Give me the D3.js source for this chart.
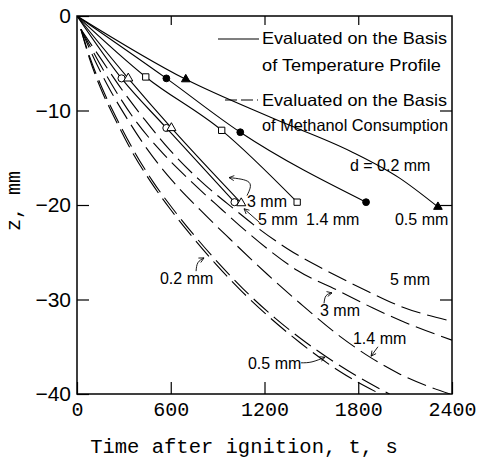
<!DOCTYPE html>
<html>
<head>
<meta charset="utf-8">
<script src="https://cdn.jsdelivr.net/npm/d3@7"></script>
<style>
  body { margin: 0; background: #fff; }
</style>
</head>
<body>
<div id="chart"></div>
<script>
const xTicks = [0, 600, 1200, 1800, 2400];
const yTicks = [0, -10, -20, -30, -40];

// measured points from the temperature profile, [t (s), z (mm)]
const temp02 = [[696, -6.7], [2310, -20.2]];
const temp05 = [[572, -6.6], [1045, -12.3], [1850, -19.7]];
const temp14 = [[440, -6.45], [926, -12.1], [1409, -19.7]];
const temp3 = [[285, -6.6], [572, -11.85], [1008, -19.7]];
const temp5 = [[328, -6.6], [604, -11.85], [1051, -19.8]];

// solid curves (temperature profile)
const solid02 = [[0, 0], [696, -6.7], [1250, -10.8], [1750, -14.3], [2060, -17.1], [2310, -20.2]];
const solid05 = [[0, 0], [572, -6.6], [1045, -12.3], [1850, -19.7]];
const solid14 = [[0, 0], [440, -6.45], [926, -12.1], [1409, -19.7]];
const solid3 = [[0, 0], [285, -6.6], [572, -11.85], [1008, -19.7]];
const solid5 = [[0, 0], [328, -6.6], [604, -11.85], [1051, -19.8]];

// dashed curves (methanol consumption)
const dash02 = [[25, -1.4], [80, -4.5], [150, -7.6], [250, -11.1], [350, -14.3], [470, -17.5], [600, -20.5], [740, -23.4], [880, -26.1], [1040, -28.9], [1240, -32.0], [1430, -34.6], [1680, -37.6], [1940, -40]];
const dash05 = [[25, -1.4], [85, -4.5], [160, -7.6], [262, -11.1], [365, -14.3], [485, -17.5], [618, -20.5], [760, -23.4], [903, -26.1], [1065, -28.9], [1270, -32.0], [1470, -34.6], [1740, -37.6], [2000, -40]];
const dash14 = [[25, -1.4], [115, -4.7], [211, -7.8], [326, -11.0], [454, -14.2], [608, -17.4], [787, -20.5], [979, -23.6], [1216, -27.3], [1427, -30.4], [1683, -33.9], [1875, -36.1], [2067, -37.9], [2387, -40]];
const dash3 = [[25, -1.4], [134, -4.7], [243, -7.8], [371, -11.0], [531, -14.2], [723, -17.4], [928, -20.5], [1043, -22.2], [1216, -24.6], [1408, -26.9], [1664, -29.0], [1894, -30.9], [2067, -32.2], [2400, -34.3]];
const dash5 = [[25, -1.4], [160, -4.7], [288, -7.8], [435, -11.0], [595, -14.2], [787, -17.4], [1011, -20.5], [1171, -22.6], [1344, -24.6], [1638, -27.3], [1856, -29.1], [2067, -30.7], [2400, -32.3]];

const width = 477;
const height = 459;
const margin = { top: 16, right: 25, bottom: 65, left: 77 };
const sans = "'Liberation Sans', Arial, sans-serif";
const mono = "'Liberation Mono', 'Courier New', monospace";

const svg = d3.select("#chart")
  .append("svg")
  .attr("width", width)
  .attr("height", height);

const x = d3.scaleLinear().domain([0, 2400]).range([margin.left, width - margin.right]);
const y = d3.scaleLinear().domain([-40, 0]).range([height - margin.bottom, margin.top]);

svg.append("clipPath").attr("id", "plot")
  .append("rect")
  .attr("x", x(0)).attr("y", y(0))
  .attr("width", x(2400) - x(0)).attr("height", y(-40) - y(0));

const line = d3.line()
  .x(d => x(d[0]))
  .y(d => y(d[1]))
  .curve(d3.curveMonotoneX);

const curves = svg.append("g")
  .attr("clip-path", "url(#plot)")
  .attr("fill", "none")
  .attr("stroke", "#000")
  .attr("stroke-width", 1.1);

[solid02, solid05, solid14, solid3, solid5].forEach(s => {
  curves.append("path").attr("d", line(s));
});
[dash02, dash05, dash14, dash3, dash5].forEach(s => {
  curves.append("path").attr("d", line(s)).attr("stroke-dasharray", "20,7");
});

// markers
const markers = [
  { pts: temp02, type: d3.symbolTriangle, size: 32, fill: "#000" },
  { pts: temp05, type: d3.symbolCircle, size: 36, fill: "#000" },
  { pts: temp14, type: d3.symbolSquare, size: 40, fill: "#fff" },
  { pts: temp3, type: d3.symbolCircle, size: 40, fill: "#fff" },
  { pts: temp5, type: d3.symbolTriangle, size: 36, fill: "#fff" }
];
markers.forEach(m => {
  svg.append("g").selectAll("path")
    .data(m.pts)
    .join("path")
    .attr("transform", d => `translate(${x(d[0])},${y(d[1])})`)
    .attr("d", d3.symbol(m.type, m.size))
    .attr("fill", m.fill)
    .attr("stroke", "#000")
    .attr("stroke-width", 1);
});

// axes, ticks pointing inward
const bottom = svg.append("g")
  .attr("transform", `translate(0,${y(-40)})`)
  .call(d3.axisBottom(x).tickValues(xTicks).tickSizeInner(-12).tickSizeOuter(0).tickPadding(8).tickFormat(d3.format("d")));
bottom.attr("font-family", mono).attr("font-size", 20);

const left = svg.append("g")
  .attr("transform", `translate(${x(0)},0)`)
  .call(d3.axisLeft(y).tickValues(yTicks).tickSizeInner(-12).tickSizeOuter(0).tickPadding(6).tickFormat(d3.format("d")));
left.attr("font-family", sans).attr("font-size", 21);

svg.append("g")
  .attr("transform", `translate(0,${y(0)})`)
  .call(d3.axisTop(x).tickValues([600, 1200, 1800]).tickSizeInner(-9).tickSizeOuter(0).tickFormat(""));

svg.append("g")
  .attr("transform", `translate(${x(2400)},0)`)
  .call(d3.axisRight(y).tickValues([-10, -20, -30]).tickSizeInner(-12).tickSizeOuter(0).tickFormat(""));

svg.selectAll(".domain").remove();
svg.selectAll(".tick line").attr("stroke-width", 1.2);

svg.append("rect")
  .attr("x", x(0)).attr("y", y(0))
  .attr("width", x(2400) - x(0)).attr("height", y(-40) - y(0))
  .attr("fill", "none")
  .attr("stroke", "#000")
  .attr("stroke-width", 1.5);

// axis titles
svg.append("text")
  .attr("x", 244).attr("y", 453)
  .attr("text-anchor", "middle")
  .style("font-family", mono).style("font-size", "20.5px")
  .text("Time after ignition, t, s");

svg.append("text")
  .attr("transform", "translate(20,201) rotate(-90)")
  .attr("text-anchor", "middle")
  .style("font-family", mono).style("font-size", "20px")
  .text("z, mm");

// legend
const legend = svg.append("g").style("font-family", sans).style("font-size", "16.5px");
legend.append("line").attr("x1", 218).attr("x2", 259).attr("y1", 39).attr("y2", 39)
  .attr("stroke", "#000").attr("stroke-width", 1.1);
legend.append("line").attr("x1", 225).attr("x2", 258).attr("y1", 100).attr("y2", 100)
  .attr("stroke", "#000").attr("stroke-width", 1.1).attr("stroke-dasharray", "12,4");
[["Evaluated on the Basis", 44, 185], ["of Temperature Profile", 71, 179],
 ["Evaluated on the Basis", 106, 185], ["of Methanol Consumption", 131, 186]].forEach(r => {
  legend.append("text").attr("x", 262).attr("y", r[1])
    .attr("textLength", r[2]).attr("lengthAdjust", "spacingAndGlyphs")
    .text(r[0]);
});

// curve labels, placed in data units
const labels = [
  ["d = 0.2 mm", 1747, -16.4],
  ["3 mm", 1088, -20.2],
  ["5 mm", 1158, -22.1],
  ["1.4 mm", 1466, -22.1],
  ["0.5 mm", 2035, -22.1],
  ["5 mm", 2003, -28.5],
  ["3 mm", 1555, -31.7],
  ["1.4 mm", 1766, -34.7],
  ["0.5 mm", 1094, -37.4],
  ["0.2 mm", 531, -28.4]
];
svg.append("g")
  .style("font-family", sans).style("font-size", "16px")
  .selectAll("text")
  .data(labels)
  .join("text")
  .attr("x", d => x(d[1]))
  .attr("y", d => y(d[2]))
  .text(d => d[0]);

// pointer arrows
svg.append("defs").append("marker")
  .attr("id", "head")
  .attr("viewBox", "0 0 10 10")
  .attr("refX", 9).attr("refY", 5)
  .attr("markerWidth", 7).attr("markerHeight", 7)
  .attr("orient", "auto")
  .append("path")
  .attr("d", "M1,1 L9,5 L1,9")
  .attr("fill", "none")
  .attr("stroke", "#000")
  .attr("stroke-width", 1.3);

const arrows = [
  [[762, -27.0], [774, -26.1], [813, -25.6]],
  [[1581, -30.4], [1594, -29.6], [1632, -29.3]],
  [[1926, -35.0], [1882, -36.0]],
  [[1434, -36.7], [1504, -36.6], [1587, -36.1]],
  [[1088, -19.0], [1101, -17.6], [973, -17.1]],
  [[1165, -21.8], [1069, -20.4]]
];
const arrowLine = d3.line()
  .x(d => x(d[0]))
  .y(d => y(d[1]))
  .curve(d3.curveNatural);
svg.append("g")
  .attr("fill", "none")
  .attr("stroke", "#000")
  .attr("stroke-width", 0.9)
  .selectAll("path")
  .data(arrows)
  .join("path")
  .attr("d", d => arrowLine(d))
  .attr("marker-end", "url(#head)");
</script>
</body>
</html>
